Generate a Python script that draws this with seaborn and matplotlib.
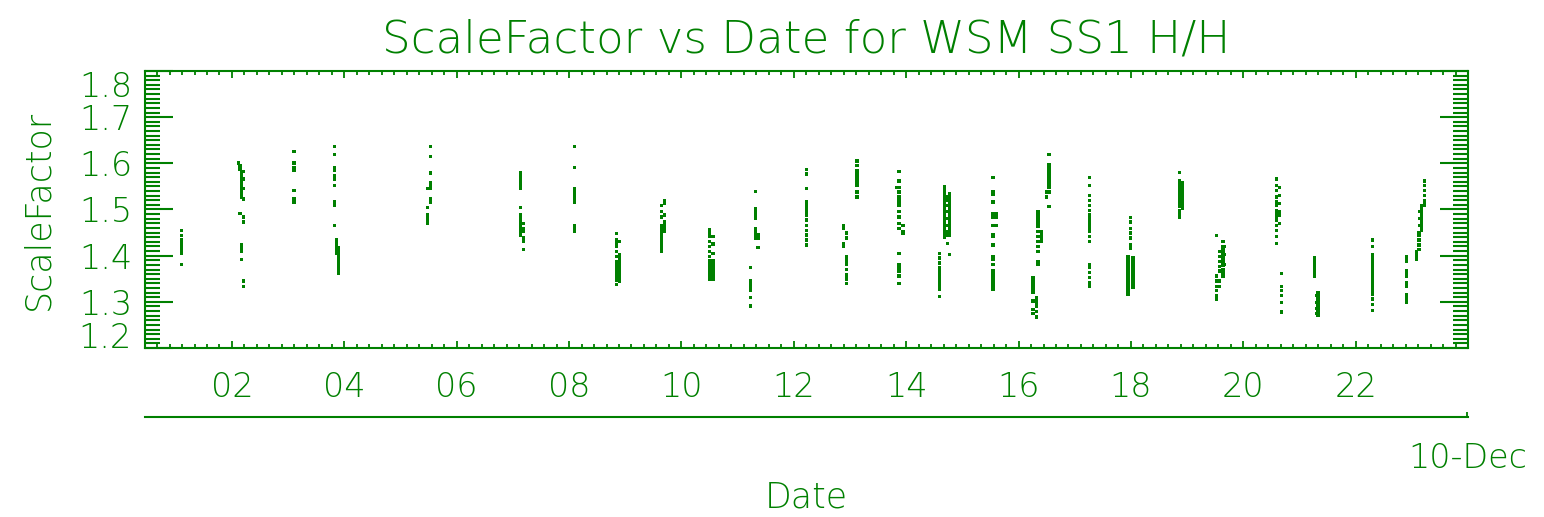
import numpy as np
import matplotlib
matplotlib.use("Agg")
import matplotlib.pyplot as plt
from matplotlib.ticker import MultipleLocator, NullLocator
import pandas as pd
import seaborn as sns

sns.set_theme(style="white")
plt.rcParams["font.family"] = ["DejaVu Sans"]
plt.rcParams["font.weight"] = "light"

GREEN = "#008000"

# Hour of day (10 Dec) of each run of samples, and the scale factors in that run
segment_hours = [
    1.105,
    2.113, 2.142, 2.172, 2.202, 2.142, 2.202, 2.172, 2.202,
    3.103,
    3.821, 3.862, 3.892,
    5.535, 5.476,
    7.137, 7.184,
    8.103,
    8.845, 8.892,
    9.705, 9.646,
    10.505, 10.564,
    11.324, 11.365, 11.229,
    12.226,
    12.890, 12.937,
    13.127,
    13.874, 13.838, 13.945,
    14.687, 14.734, 14.776, 14.598,
    15.546, 15.606,
    16.543, 16.496, 16.348, 16.407, 16.259, 16.318,
    17.267,
    17.990, 17.948, 18.037,
    18.868, 18.920,
    19.521, 19.640, 19.580, 19.669,
    20.589, 20.648, 20.678,
    21.270, 21.330, 21.300,
    22.297,
    22.902, 23.228, 23.168, 23.140, 23.127, 23.080,
]

segment_values = [
    [1.455, 1.444, 1.434, 1.428, 1.422, 1.416, 1.410, 1.405, 1.381],
    [1.601],
    [1.594, 1.587],
    [1.580, 1.574, 1.568, 1.562, 1.556, 1.550, 1.544, 1.538, 1.532, 1.526],
    [1.583, 1.566, 1.545, 1.523],
    [1.491],
    [1.484, 1.473],
    [1.423, 1.416, 1.409, 1.391],
    [1.345, 1.334],
    [1.626, 1.601, 1.591, 1.584, 1.541, 1.523, 1.516],
    [1.637, 1.619, 1.591, 1.585, 1.573, 1.566, 1.552, 1.516, 1.509, 1.466],
    [1.434, 1.428, 1.422, 1.416, 1.410, 1.404],
    [1.418, 1.410, 1.402, 1.398, 1.392, 1.386, 1.380, 1.374, 1.368, 1.362],
    [1.637, 1.614, 1.579, 1.559, 1.552, 1.545, 1.523, 1.516],
    [1.545, 1.505, 1.488, 1.481, 1.475, 1.470],
    [1.580, 1.573, 1.566, 1.559, 1.552, 1.545, 1.505, 1.488, 1.481, 1.473, 1.466, 1.459, 1.452, 1.445],
    [1.470, 1.459, 1.452, 1.438, 1.431, 1.413],
    [1.637, 1.591, 1.545, 1.538, 1.531, 1.523, 1.516, 1.466, 1.459, 1.452],
    [1.448, 1.434, 1.427, 1.420, 1.409, 1.398, 1.388, 1.381, 1.374, 1.367, 1.360, 1.353, 1.346, 1.338],
    [1.430, 1.402, 1.395, 1.388, 1.381, 1.374, 1.367, 1.360, 1.352, 1.345],
    [1.520, 1.513, 1.488, 1.473, 1.466, 1.459, 1.452],
    [1.509, 1.495, 1.484, 1.466, 1.459, 1.452, 1.445, 1.438, 1.430, 1.423, 1.416, 1.410],
    [1.456, 1.449, 1.441, 1.430, 1.420, 1.409, 1.398, 1.390, 1.384, 1.378, 1.372, 1.366, 1.360, 1.354, 1.349],
    [1.441, 1.425, 1.405, 1.390, 1.384, 1.378, 1.372, 1.366, 1.360, 1.354, 1.349],
    [1.539, 1.502, 1.495, 1.488, 1.481, 1.459, 1.452, 1.445, 1.438],
    [1.445, 1.438, 1.418],
    [1.375, 1.345, 1.339, 1.334, 1.328, 1.324, 1.309, 1.291],
    [1.587, 1.577, 1.545, 1.516, 1.510, 1.504, 1.498, 1.492, 1.488, 1.477, 1.466, 1.455, 1.445, 1.434, 1.423],
    [1.466, 1.459, 1.427, 1.420],
    [1.449, 1.438, 1.398, 1.391, 1.385, 1.381, 1.370, 1.359, 1.352, 1.348, 1.339],
    [1.605, 1.595, 1.584, 1.578, 1.573, 1.567, 1.562, 1.557, 1.552, 1.538, 1.527],
    [1.582, 1.562, 1.548, 1.538, 1.527, 1.520, 1.516, 1.509, 1.495, 1.484, 1.470, 1.459, 1.404, 1.381, 1.374, 1.367, 1.356, 1.340],
    [1.548],
    [1.466, 1.452, 1.449],
    [1.549, 1.542, 1.536, 1.530, 1.524, 1.518, 1.512, 1.506, 1.500, 1.494, 1.488, 1.482, 1.476, 1.470, 1.464, 1.458, 1.452, 1.446, 1.440],
    [1.527, 1.520, 1.509, 1.495, 1.481, 1.466, 1.452, 1.445, 1.427],
    [1.535, 1.528, 1.521, 1.514, 1.507, 1.500, 1.493, 1.486, 1.479, 1.472, 1.465, 1.458, 1.451, 1.444, 1.402],
    [1.405, 1.395, 1.384, 1.374, 1.368, 1.362, 1.356, 1.350, 1.344, 1.338, 1.332, 1.326, 1.311],
    [1.570, 1.539, 1.533, 1.516, 1.491, 1.484, 1.466, 1.445, 1.441, 1.423, 1.398, 1.391, 1.381, 1.367, 1.361, 1.356, 1.350, 1.345, 1.339, 1.334, 1.327],
    [1.491, 1.484, 1.466],
    [1.619, 1.598, 1.592, 1.587, 1.582, 1.577, 1.571, 1.566, 1.561, 1.555, 1.548, 1.538, 1.506],
    [1.538, 1.527],
    [1.495, 1.489, 1.484, 1.478, 1.473, 1.468, 1.463, 1.452, 1.441, 1.430, 1.420, 1.409, 1.388, 1.381],
    [1.452, 1.445, 1.438, 1.430],
    [1.352, 1.346, 1.341, 1.336, 1.331, 1.325, 1.320, 1.302, 1.284, 1.274],
    [1.309, 1.302, 1.295, 1.290, 1.279, 1.267],
    [1.570, 1.552, 1.531, 1.520, 1.509, 1.498, 1.488, 1.482, 1.477, 1.471, 1.466, 1.459, 1.452, 1.441, 1.430, 1.381, 1.374, 1.363, 1.352, 1.341, 1.334],
    [1.483, 1.473, 1.459, 1.449, 1.438, 1.423, 1.416],
    [1.398, 1.391, 1.384, 1.377, 1.370, 1.363, 1.356, 1.349, 1.342, 1.335, 1.328, 1.320, 1.316],
    [1.395, 1.388, 1.381, 1.374, 1.367, 1.360, 1.352, 1.345, 1.338, 1.331],
    [1.580, 1.562, 1.555, 1.548, 1.541, 1.534, 1.527, 1.520, 1.513, 1.506, 1.498, 1.491, 1.484],
    [1.558, 1.551, 1.544, 1.537, 1.530, 1.523, 1.516, 1.509, 1.502],
    [1.443, 1.356, 1.345, 1.334, 1.324, 1.313, 1.306],
    [1.430, 1.420, 1.413, 1.406, 1.399, 1.392, 1.385, 1.378, 1.370, 1.363, 1.356],
    [1.409, 1.398, 1.388, 1.377, 1.367, 1.345, 1.334],
    [1.420, 1.402, 1.381],
    [1.566, 1.552, 1.541, 1.527, 1.516, 1.509, 1.498, 1.491, 1.484, 1.477, 1.466, 1.455, 1.441, 1.427],
    [1.548, 1.530, 1.513, 1.495, 1.488, 1.470],
    [1.361, 1.334, 1.324, 1.313, 1.299, 1.278],
    [1.395, 1.389, 1.384, 1.379, 1.374, 1.368, 1.363, 1.356],
    [1.320, 1.313, 1.306, 1.299, 1.292, 1.285, 1.278, 1.270],
    [1.313, 1.299, 1.285, 1.275],
    [1.434, 1.420, 1.402, 1.396, 1.391, 1.386, 1.381, 1.375, 1.370, 1.364, 1.359, 1.353, 1.348, 1.343, 1.338, 1.332, 1.327, 1.322, 1.316, 1.306, 1.295, 1.281],
    [1.398, 1.393, 1.388, 1.367, 1.361, 1.356, 1.341, 1.334, 1.316, 1.311, 1.306, 1.299],
    [1.562, 1.552, 1.541, 1.531, 1.520, 1.513, 1.509],
    [1.509, 1.502, 1.495, 1.488, 1.481, 1.474, 1.467, 1.460, 1.455],
    [1.495, 1.481, 1.466],
    [1.450, 1.445, 1.434, 1.423, 1.413],
    [1.409, 1.402, 1.395, 1.391],
]

hour_ticks = [2, 4, 6, 8, 10, 12, 14, 16, 18, 20, 22]
hour_labels = ["02", "04", "06", "08", "10", "12", "14", "16", "18", "20", "22"]
sf_ticks = [1.2, 1.3, 1.4, 1.5, 1.6, 1.7, 1.8]
sf_labels = ["1.2", "1.3", "1.4", "1.5", "1.6", "1.7", "1.8"]
day_label = "10-Dec"
title = "ScaleFactor vs Date for WSM SS1 H/H"

rows = [(h, v) for h, vals in zip(segment_hours, segment_values) for v in vals]
df = pd.DataFrame(rows, columns=["hour", "scale_factor"])

W, H = 1544, 517
fig = plt.figure(figsize=(W / 100, H / 100), dpi=100)
fig.patch.set_facecolor("white")
ax = fig.add_axes([145 / W, 1 - 348 / H, 1323 / W, 277 / H])
ax.set_facecolor("white")

sns.scatterplot(data=df, x="hour", y="scale_factor", ax=ax, marker="s", s=5.5,
                color=GREEN, edgecolor="none", linewidth=0, legend=False)

ax.set_xlim(0.452, 24.0)
ax.set_ylim(1.2, 1.8)
ax.set_xlabel("")
ax.set_ylabel("")

for sp in ax.spines.values():
    sp.set_visible(True)
    sp.set_color(GREEN)
    sp.set_linewidth(1.5)

ax.set_xticks(hour_ticks, labels=hour_labels)
ax.xaxis.set_minor_locator(MultipleLocator(2 / 9))
ax.set_yticks(sf_ticks, labels=sf_labels)
ax.yaxis.set_minor_locator(MultipleLocator(0.01))

ax.tick_params(axis="x", which="both", direction="in", top=True, bottom=True,
               colors=GREEN, labelsize=24, pad=16.5, width=1.3)
ax.tick_params(axis="x", which="major", length=5)
ax.tick_params(axis="x", which="minor", length=2.9)
ax.tick_params(axis="y", which="both", direction="in", left=True, right=True,
               colors=GREEN, labelsize=24, pad=9.4, width=1.5)
ax.tick_params(axis="y", which="major", length=20)
ax.tick_params(axis="y", which="minor", length=10.8)

# day axis below the hour axis
sec = ax.secondary_xaxis(-0.2491)
sec.set_xticks([23.99], labels=[day_label])
sec.xaxis.set_minor_locator(NullLocator())
sec.tick_params(axis="x", direction="in", length=3.6, width=1.3, colors=GREEN,
                labelsize=24, pad=18)
sec.spines["bottom"].set_color(GREEN)
sec.spines["bottom"].set_linewidth(1.5)

fig.text(806 / W, 1 - 53 / H, title, ha="center", va="baseline",
         fontsize=32.5, color=GREEN)
fig.text(806 / W, 1 - 508 / H, "Date", ha="center", va="baseline",
         fontsize=25, color=GREEN)
fig.text(38 / W, 1 - 209.5 / H, "ScaleFactor", rotation=90, ha="center",
         va="center", fontsize=25, color=GREEN)

# keep the end labels inside the axis range
for tick in ax.yaxis.get_major_ticks():
    txt = tick.label1.get_text()
    if txt == "1.8":
        tick.label1.set_va("top")
    elif txt == "1.2":
        tick.label1.set_va("baseline")

fig.savefig("out.png", dpi=100, facecolor="white")
